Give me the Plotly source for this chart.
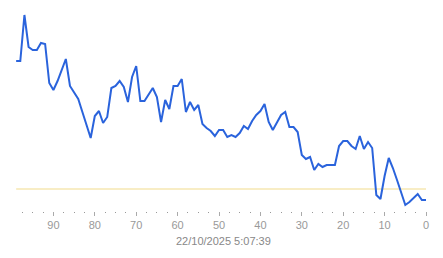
import plotly.graph_objects as go

# x positions (samples ago), left to right
x_vals = list(range(99, -1, -1))

# series values, left (99) to right (0)
values = [150, 150, 196, 164, 161, 161, 168, 167, 128, 121,
          130, 141, 152, 125, 118, 112, 99, 86, 73, 95,
          100, 88, 94, 123, 125, 130, 124, 109, 134, 145,
          110, 110, 116, 123, 114, 89, 111, 102, 125, 125,
          132, 99, 109, 101, 106, 87, 83, 80, 75, 81,
          81, 74, 76, 74, 78, 85, 82, 90, 96, 100,
          107, 89, 81, 88, 96, 99, 84, 84, 79, 56,
          52, 54, 41, 47, 44, 46, 46, 46, 65, 70,
          70, 65, 62, 75, 62, 69, 63, 16, 12, 35,
          53, 43, 31, 18, 6, 9, 13, 17, 11, 11]

threshold = [22] * len(x_vals)

tick_vals = [0, 10, 20, 30, 40, 50, 60, 70, 80, 90]
tick_text = ["0", "10", "20", "30", "40", "50", "60", "70", "80", "90"]
title_text = "22/10/2025 5:07:39"

fig = go.Figure()
fig.add_trace(go.Scatter(x=x_vals, y=threshold, mode="lines",
                         line=dict(color="#f2dc8c", width=1.2),
                         hoverinfo="skip", showlegend=False))
fig.add_trace(go.Scatter(x=x_vals, y=values, mode="lines",
                         line=dict(color="#2a63dc", width=2),
                         showlegend=False))

fig.update_layout(
    width=443, height=258,
    margin=dict(l=14, r=11, t=0, b=47),
    paper_bgcolor="white", plot_bgcolor="white",
    font=dict(family="Liberation Sans, Arial, sans-serif", size=11, color="#999999"),
    xaxis=dict(range=[99.52, -1.45], showgrid=False, zeroline=False, showline=False,
               tickmode="array", tickvals=tick_vals, ticktext=tick_text,
               ticks="outside", ticklen=4, tickwidth=1, tickcolor="#aaaaaa",
               tickfont=dict(size=11, color="#999999"),
               minor=dict(dtick=2.5, tick0=0, ticks="outside", ticklen=1,
                          tickwidth=1, tickcolor="#999999", showgrid=False)),
    yaxis=dict(range=[0, 211], visible=False, showgrid=False, zeroline=False),
    annotations=[dict(text=title_text, x=0.5, xref="paper", y=-0.142, yref="paper",
                      xanchor="center", yanchor="middle", showarrow=False,
                      font=dict(size=11, color="#888888"))],
)

fig.write_html("out.html")
